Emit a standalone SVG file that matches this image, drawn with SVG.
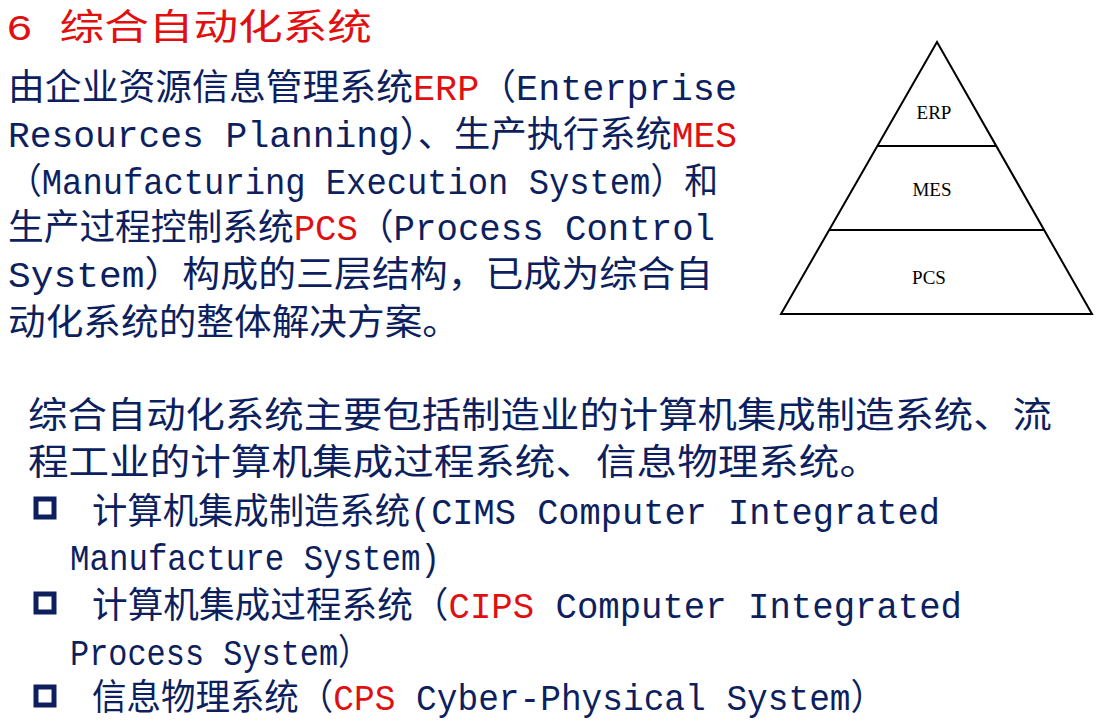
<svg xmlns="http://www.w3.org/2000/svg" width="1104" height="728" viewBox="0 0 1104 728">
<style>
.t{font-family:"Liberation Mono","Noto Sans CJK SC",monospace;font-size:36px;fill:#0d1f5e}
.r{fill:#e01010}
.p{font-family:"Liberation Serif",serif;font-size:19px;fill:#000;text-anchor:middle}
.b{fill:none;stroke:#0d1f5e;stroke-width:5}
</style>
<rect width="1104" height="728" fill="#fff"/>
<text class="t r" x="6" y="40" textLength="366" lengthAdjust="spacingAndGlyphs">6 综合自动化系统</text>
<text class="t" x="8" y="100" textLength="729" lengthAdjust="spacingAndGlyphs">由企业资源信息管理系统<tspan class="r">ERP</tspan>（Enterprise</text>
<text class="t" x="8" y="147" textLength="729" lengthAdjust="spacingAndGlyphs">Resources Planning）、生产执行系统<tspan class="r">MES</tspan></text>
<text class="t" x="8" y="194" textLength="710" lengthAdjust="spacingAndGlyphs">（Manufacturing Execution System）和</text>
<text class="t" x="8" y="240" textLength="707" lengthAdjust="spacingAndGlyphs">生产过程控制系统<tspan class="r">PCS</tspan>（Process Control</text>
<text class="t" x="8" y="287" textLength="705" lengthAdjust="spacingAndGlyphs">System）构成的三层结构，已成为综合自</text>
<text class="t" x="8" y="335" textLength="452" lengthAdjust="spacingAndGlyphs">动化系统的整体解决方案。</text>
<g id="pyramid">
<polygon points="937,42 781,314 1092,314" fill="none" stroke="#000" stroke-width="2"/>
<line x1="878" y1="146" x2="996" y2="146" stroke="#000" stroke-width="2"/>
<line x1="830" y1="230" x2="1045" y2="230" stroke="#000" stroke-width="2"/>
<text class="p" x="934" y="119">ERP</text>
<text class="p" x="932" y="196">MES</text>
<text class="p" x="929" y="284">PCS</text>
</g>
<text class="t" x="28" y="428" textLength="1024" lengthAdjust="spacingAndGlyphs">综合自动化系统主要包括制造业的计算机集成制造系统、流</text>
<text class="t" x="28" y="475" textLength="852" lengthAdjust="spacingAndGlyphs">程工业的计算机集成过程系统、信息物理系统。</text>
<rect class="b" x="36" y="499" width="18" height="18"/>
<text class="t" x="92" y="524" textLength="848" lengthAdjust="spacingAndGlyphs">计算机集成制造系统(CIMS Computer Integrated</text>
<text class="t" x="70" y="570" textLength="370" lengthAdjust="spacingAndGlyphs">Manufacture System)</text>
<rect class="b" x="36" y="594" width="18" height="18"/>
<text class="t" x="92" y="618" textLength="870" lengthAdjust="spacingAndGlyphs">计算机集成过程系统（<tspan class="r">CIPS</tspan> Computer Integrated</text>
<text class="t" x="70" y="665" textLength="300" lengthAdjust="spacingAndGlyphs">Process System）</text>
<rect class="b" x="36" y="687" width="18" height="18"/>
<text class="t" x="92" y="710" textLength="793" lengthAdjust="spacingAndGlyphs">信息物理系统（<tspan class="r">CPS</tspan> Cyber-Physical System）</text>
</svg>
